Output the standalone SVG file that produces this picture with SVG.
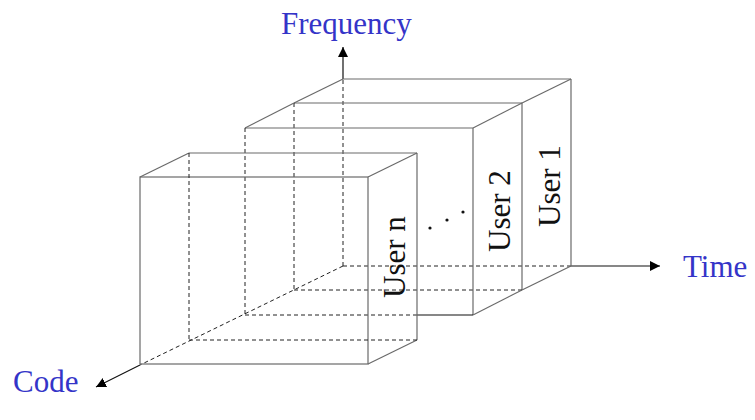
<svg xmlns="http://www.w3.org/2000/svg" width="755" height="420" viewBox="0 0 755 420">
<style>
.e{stroke:#6a6a6a;stroke-width:1.2;fill:none}
.h{stroke:#222;stroke-width:1;fill:none;stroke-dasharray:4 3}
.ax{stroke:#111;stroke-width:1.2;fill:none}
.lbl{font-family:"Liberation Serif","Times New Roman",serif;font-size:31px;fill:#3434c8}
.usr{font-family:"Liberation Serif","Times New Roman",serif;font-size:31px;fill:#111}
</style>
<defs>
<marker id="arr" viewBox="0 0 10 10" refX="10" refY="5" markerWidth="10" markerHeight="10" markerUnits="userSpaceOnUse" orient="auto">
<path d="M0,0 L10,5 L0,10 z" fill="#000"/>
</marker>
</defs>
<rect width="755" height="420" fill="#fff"/>
<g id="connectors">
<line class="h" x1="343" y1="266" x2="343" y2="79"/>
<line class="ax" x1="343" y1="79" x2="343" y2="47" marker-end="url(#arr)"/>
<line class="h" x1="343" y1="266" x2="571" y2="266"/>
<line class="ax" x1="571" y1="266" x2="660" y2="266" marker-end="url(#arr)"/>
<line class="h" x1="343" y1="266" x2="140" y2="365"/>
<line class="ax" x1="140" y1="365" x2="96" y2="387" marker-end="url(#arr)"/>
</g>
<g id="user1">
<line class="e" x1="343" y1="79" x2="571" y2="79"/>
<line class="e" x1="571" y1="79" x2="571" y2="266"/>
<line class="e" x1="294" y1="103" x2="522" y2="103"/>
<line class="e" x1="522" y1="103" x2="522" y2="290"/>
<line class="e" x1="294" y1="103" x2="343" y2="79"/>
<line class="e" x1="522" y1="103" x2="571" y2="79"/>
<line class="e" x1="522" y1="290" x2="571" y2="266"/>
<line class="h" x1="294" y1="103" x2="294" y2="290"/>
<line class="h" x1="294" y1="290" x2="522" y2="290"/>
<text class="usr" transform="translate(560,227) rotate(-90)">User 1</text>
</g>
<g id="user2">
<line class="e" x1="245" y1="128" x2="473" y2="128"/>
<line class="e" x1="473" y1="128" x2="473" y2="315"/>
<line class="e" x1="245" y1="128" x2="294" y2="103"/>
<line class="e" x1="473" y1="128" x2="522" y2="103"/>
<line class="e" x1="473" y1="315" x2="522" y2="290"/>
<line class="h" x1="245" y1="128" x2="245" y2="315"/>
<line class="h" x1="245" y1="315" x2="417" y2="315"/>
<line class="ax" x1="417" y1="315" x2="473" y2="315"/>
<text class="usr" transform="translate(510,252) rotate(-90)">User 2</text>
</g>
<g id="dots" fill="#111">
<circle cx="430" cy="228" r="1.6"/>
<circle cx="447" cy="220" r="1.6"/>
<circle cx="463" cy="212" r="1.6"/>
</g>
<g id="usern">
<rect class="e" x="140" y="177" width="228" height="187"/>
<line class="e" x1="189" y1="153" x2="417" y2="153"/>
<line class="e" x1="417" y1="153" x2="417" y2="340"/>
<line class="e" x1="140" y1="177" x2="189" y2="153"/>
<line class="e" x1="368" y1="177" x2="417" y2="153"/>
<line class="e" x1="368" y1="364" x2="417" y2="340"/>
<line class="h" x1="189" y1="153" x2="189" y2="340"/>
<line class="h" x1="189" y1="340" x2="417" y2="340"/>
<text class="usr" transform="translate(405,298) rotate(-90)">User n</text>
</g>
<g id="labels">
<text class="lbl" x="281" y="34">Frequency</text>
<text class="lbl" x="683" y="277">Time</text>
<text class="lbl" x="13" y="392">Code</text>
</g>
</svg>
